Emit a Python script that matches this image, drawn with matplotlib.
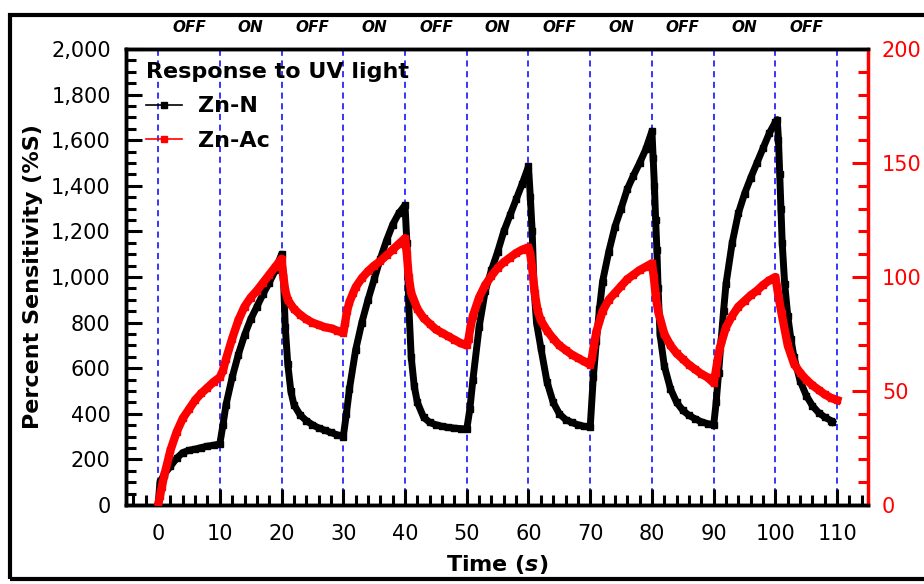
import numpy as np
import matplotlib
matplotlib.use('Agg')
import matplotlib.pyplot as plt
from matplotlib.lines import Line2D
from matplotlib.patches import Rectangle
from matplotlib.ticker import MultipleLocator, FuncFormatter
import matplotlib.transforms as mtransforms

# Zn-N (left axis, % sensitivity)
t_zn_n = [0, 0.3, 1, 2, 3, 4, 5, 6, 7, 8, 9, 10,
          10.5, 11, 12, 13, 14, 15, 16, 17, 18, 19, 20,
          20.3, 20.6, 21, 21.5, 22, 23, 24, 25, 26, 27, 28, 29, 30,
          30.5, 31, 32, 33, 34, 35, 36, 37, 38, 39, 40,
          40.3, 40.6, 41, 41.5, 42, 43, 44, 45, 46, 47, 48, 49, 50,
          50.5, 51, 52, 53, 54, 55, 56, 57, 58, 59, 60,
          60.3, 60.6, 60.9, 61.3, 62, 63, 64, 65, 66, 67, 68, 69, 70,
          70.5, 71, 71.5, 72, 73, 74, 75, 76, 77, 78, 79, 80,
          80.2, 80.4, 80.6, 80.8, 81, 81.3, 82, 83, 84, 85, 86, 87, 88, 89, 90,
          90.4, 90.8, 91.2, 91.6, 92, 93, 94, 95, 96, 97, 98, 99, 100, 100.3,
          100.5, 100.7, 100.9, 101.1, 101.5, 102, 102.5, 103, 104, 105, 106, 107, 108, 109, 109.2]
zn_n = [0, 100, 135, 170, 205, 230, 240, 245, 252, 258, 262, 268,
        350, 440, 560, 660, 745, 815, 870, 925, 975, 1030, 1100,
        1000, 780, 620, 500, 440, 395, 370, 352, 338, 328, 318, 308, 300,
        400, 510, 680, 800, 900, 990, 1080, 1160, 1230, 1280, 1315,
        1150, 880, 650, 520, 450, 385, 362, 352, 345, 340, 337, 335, 333,
        420, 550, 780, 940, 1030, 1110, 1200, 1270, 1340, 1410, 1485,
        1350, 1200, 950, 800, 690, 540, 450, 400, 375, 362, 352, 345, 342,
        560, 720, 860, 980, 1110, 1220, 1300, 1385, 1445, 1500, 1560, 1640,
        1520, 1400, 1250, 1120, 950, 750, 610, 510, 450, 415, 393, 378, 365, 357, 350,
        450, 580, 720, 850, 970, 1150, 1280, 1365, 1435, 1500, 1565, 1630, 1680, 1690,
        1600, 1450, 1300, 1150, 970, 830, 730, 650, 545, 480, 435, 405, 385, 370, 365]

# Zn-Ac (right axis)
t_zn_ac = [0, 0.3, 0.6, 1, 2, 3, 4, 5, 6, 7, 8, 9, 10,
           10.5, 11, 12, 13, 14, 15, 16, 17, 18, 19, 20,
           20.3, 20.6, 21, 22, 23, 24, 25, 26, 27, 28, 29, 30,
           30.3, 30.6, 31, 31.6, 32, 33, 34, 35, 36, 37, 38, 39, 40,
           40.3, 40.6, 41, 42, 43, 44, 45, 46, 47, 48, 49, 50,
           50.3, 50.6, 51, 52, 53, 54, 55, 56, 57, 58, 59, 60,
           60.3, 60.6, 61, 61.5, 62, 63, 64, 65, 66, 67, 68, 69, 70,
           70.3, 70.6, 71, 72, 73, 74, 75, 76, 77, 78, 79, 80,
           80.3, 80.6, 81, 82, 83, 84, 85, 86, 87, 88, 89, 90,
           90.3, 90.6, 91, 92, 93, 94, 95, 96, 97, 98, 99, 100,
           100.3, 100.6, 101, 102, 103, 104, 105, 106, 107, 108, 109, 110]
zn_ac = [0, 4, 8, 13, 24, 32, 38, 42, 46, 49, 51.5, 54, 56,
         59, 64, 73, 81, 87, 91, 94, 97.5, 101, 104.5, 108,
         100, 94, 90, 86, 83.5, 81.5, 80, 79, 78, 77.5, 76.5, 75.5,
         80, 85, 89, 93, 95.5, 99.5, 102.5, 105, 107, 109.5, 112, 114.5, 117,
         110, 100, 93, 86, 82, 79.5, 77, 75.5, 74, 72.5, 71, 70,
         73, 78, 83, 91, 96.5, 100.5, 104, 106.5, 108.5, 110.5, 112, 113,
         110, 104, 93, 85, 81, 76.5, 73, 70, 68, 66, 64.5, 63, 61.5,
         65, 70, 76, 85, 90, 93, 96, 99, 101, 103, 104.5, 106,
         100, 92, 85, 75, 70, 66.5, 64, 61.5, 59.5, 57.5, 56, 53.5,
         58, 63, 69, 78, 83, 87, 89.5, 92, 94, 96.5, 98.5, 100,
         95, 90, 84, 70, 62, 58, 55, 52.5, 50.5, 48.5, 47, 46]

switch_times = list(range(0, 111, 10))
state_labels = ['OFF', 'ON', 'OFF', 'ON', 'OFF', 'ON', 'OFF', 'ON', 'OFF', 'ON', 'OFF']

fig = plt.figure(figsize=(9.24, 5.84), dpi=100)
ax = fig.add_axes([126/924, 79/584, 742/924, 456/584])
ax2 = ax.twinx()

for x in switch_times:
    ax.axvline(x, color='#0000ff', lw=1.1, ls=(0, (4, 3)), zorder=1)

ax.plot(t_zn_n, zn_n, color='black', lw=5, marker='s', ms=4, zorder=3)
ax2.plot(t_zn_ac, zn_ac, color='#ff0000', lw=6, marker='s', ms=4, zorder=3)

ax.set_xlim(-5.2, 115)
ax.set_ylim(0, 2000)
ax2.set_ylim(0, 200)

ax.xaxis.set_major_locator(MultipleLocator(10))
ax.xaxis.set_minor_locator(MultipleLocator(2))
ax.yaxis.set_major_locator(MultipleLocator(200))
ax.yaxis.set_minor_locator(MultipleLocator(50))
ax.yaxis.set_major_formatter(FuncFormatter(lambda v, p: f'{v:,.0f}'))
ax2.yaxis.set_major_locator(MultipleLocator(50))
ax2.yaxis.set_minor_locator(MultipleLocator(10))

ax.tick_params(which='major', direction='in', length=11.5, width=2.2, labelsize=15)
ax.tick_params(which='minor', direction='in', length=7, width=2.2)
ax.tick_params(axis='x', which='both', top=False, pad=14)
ax.tick_params(axis='y', which='both', right=False, pad=11)
ax2.tick_params(which='major', direction='in', length=11.5, width=2.2, labelsize=15,
                colors='#ff0000', pad=10)
ax2.tick_params(which='minor', direction='in', length=7, width=2.2, colors='#ff0000')

for s in ['left', 'bottom', 'top']:
    ax.spines[s].set_linewidth(2.5)
    ax2.spines[s].set_linewidth(2.5)
ax2.spines['right'].set_linewidth(2.5)
ax2.spines['right'].set_color('#ff0000')
ax.spines['right'].set_visible(False)

ax.set_xlabel('Time ($\\mathbfit{s}$)', fontsize=16, fontweight='bold', labelpad=6)
ax.set_ylabel('Percent Sensitivity (%S)', fontsize=16, fontweight='bold', labelpad=6)

trans = mtransforms.blended_transform_factory(ax.transData, ax.transAxes)
for i, lab in enumerate(state_labels):
    ax.text(switch_times[i] + 5, 1.048, lab, transform=trans, ha='center', va='center',
            fontsize=11, fontweight='bold', fontstyle='italic')

handles = [Line2D([], [], color='black', lw=1.2, marker='s', ms=5),
           Line2D([], [], color='#ff0000', lw=1.2, marker='s', ms=5)]
leg = ax2.legend(handles, ['Zn-N', 'Zn-Ac'], title='Response to UV light', loc='upper left',
                 bbox_to_anchor=(0.015, 0.99), frameon=False, alignment='left',
                 prop={'size': 16, 'weight': 'bold'}, handlelength=1.6, handletextpad=0.75,
                 labelspacing=0.65, borderaxespad=0)
leg.get_title().set_fontsize(16)
leg.get_title().set_fontweight('bold')
leg._legend_box.sep = 10

fig.patches.append(Rectangle((10/924, 5/584), 1.0, 564/584, transform=fig.transFigure,
                             fill=False, lw=3, edgecolor='black'))

fig.savefig('out.png', dpi=100)
